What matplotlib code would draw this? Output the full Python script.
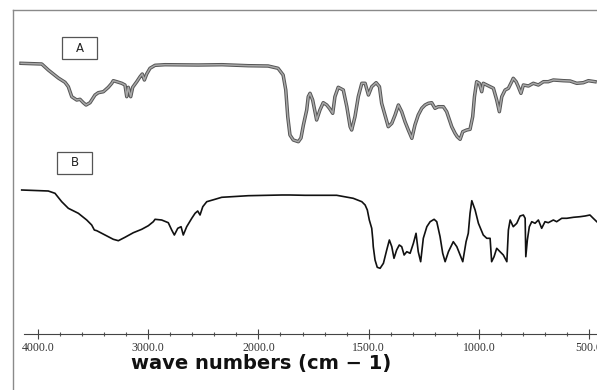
import numpy as np
import matplotlib
matplotlib.use("Agg")
import matplotlib.pyplot as plt
import matplotlib.patheffects as pe
from matplotlib.patches import Rectangle
from matplotlib.ticker import FixedLocator, FixedFormatter, NullFormatter

# spectrum A (upper trace): wavenumber (cm-1) and relative transmittance (%)
wn_a = [4154, 3966, 3907, 3816, 3755, 3725, 3694, 3649, 3619, 3589, 3564, 3528,
        3483, 3453, 3407, 3362, 3331, 3317, 3286, 3240, 3211, 3195, 3181, 3159,
        3141, 3104, 3074, 3054, 3035, 3014, 2984, 2938, 2848, 2548, 2330, 2094,
        1956, 1911, 1888, 1876, 1867, 1857, 1842, 1819, 1807, 1796, 1781, 1774,
        1766, 1754, 1736, 1721, 1706, 1690, 1678, 1663, 1653, 1638, 1615, 1599,
        1584, 1577, 1562, 1547, 1531, 1516, 1501, 1486, 1466, 1451, 1441, 1426,
        1411, 1395, 1380, 1365, 1350, 1335, 1320, 1304, 1290, 1275, 1259, 1244,
        1229, 1214, 1199, 1184, 1161, 1146, 1123, 1108, 1098, 1085, 1073, 1055,
        1040, 1028, 1020, 1010, 998, 987, 980, 964, 949, 934, 919, 907, 896, 881,
        866, 851, 844, 831, 821, 809, 798, 775, 753, 730, 707, 685, 662, 617, 586,
        556, 526, 503, 473]
t_a = [99.7, 99, 93, 85, 80.7, 76.3, 66.3, 63, 63.7, 60.3, 58, 60.3,
       68, 70.3, 71.3, 75.7, 79.7, 82.3, 81.3, 79.7, 78, 66.3, 75.7, 66.3,
       75.7, 81.3, 86.3, 89, 83, 89, 94.7, 97.7, 98.3, 98, 98.3, 97.3,
       97, 94.7, 88, 73, 46.3, 28, 23, 21.3, 25, 38, 53, 66.3,
       69.7, 63, 43, 53, 60.3, 58, 54.7, 49.7, 66.3, 75.7, 73, 56.3,
       36.3, 33, 46.3, 66.3, 79.7, 79.7, 68, 76.3, 80.3, 76.3, 59.7, 48,
       36.3, 39.7, 48, 58, 51.3, 41.3, 33, 24.7, 38, 48, 54.7, 58,
       59.7, 60.3, 54.7, 56.3, 56.3, 51.3, 36.3, 29.7, 26.3, 23.7, 31.3, 33,
       33.7, 46.3, 66.3, 81.3, 79.7, 71.3, 79.7, 78, 76.3, 74.7, 63, 51.3, 66.3, 73,
       74.7, 81.3, 84.7, 81.3, 76.3, 69.7, 78, 77, 79.7, 78, 81.3, 81.3, 83, 82.3, 82,
       79.7, 80.3, 82.3, 81.3]

# spectrum B (lower trace)
wn_b = [4148, 3907, 3846, 3785, 3725, 3634, 3558, 3513, 3489, 3467, 3392, 3317,
        3271, 3211, 3135, 3059, 2999, 2954, 2938, 2878, 2818, 2787, 2763, 2732,
        2702, 2682, 2651, 2605, 2575, 2551, 2530, 2505, 2469, 2394, 2333, 2092,
        1894, 1857, 1789, 1645, 1570, 1531, 1516, 1506, 1497, 1486, 1481, 1479,
        1471, 1461, 1448, 1433, 1418, 1406, 1395, 1385, 1373, 1361, 1350, 1339,
        1327, 1312, 1297, 1285, 1275, 1264, 1252, 1236, 1221, 1203, 1191, 1176,
        1164, 1153, 1138, 1116, 1100, 1085, 1073, 1058, 1048, 1040, 1032, 1017,
        1002, 980, 964, 949, 942, 931, 919, 904, 889, 873, 866, 858, 844, 828,
        813, 798, 790, 787, 780, 771, 760, 745, 730, 715, 700, 685, 662, 647,
        624, 601, 571, 541, 518, 496, 481, 465]
t_b = [98, 97, 94.7, 86.3, 79.7, 74.7, 68, 63, 58, 57.3, 53, 48.7,
       47.3, 50.7, 55.3, 58.7, 62.3, 66.3, 68.7, 68, 65.3, 58, 53, 59.7,
       61.3, 53, 61.3, 69.7, 74.7, 77, 73, 81.3, 86.3, 88.7, 90.7, 92.3,
       93, 93, 92.7, 92.7, 89.7, 86.3, 83, 78, 68, 59.7, 48, 41.3,
       28, 20.7, 19.7, 24.7, 38, 48, 41.3, 29.7, 38, 43, 41.3, 33,
       36.3, 34.7, 44.7, 54.7, 36.3, 26.3, 49.7, 61.3, 66.3, 68.7, 66.3, 51.3,
       34.7, 26.3, 36.3, 46.3, 41.3, 33, 26.3, 46.3, 54.7, 74.7, 87.3, 78,
       64.7, 53, 49.7, 49.7, 26.3, 31.3, 39.7, 36.3, 33, 26.3, 58, 68, 61.3, 64.7,
       72, 73, 69.7, 31.3, 48, 61.3, 66.3, 64.7, 68, 59.7, 66.3, 65.3, 68, 66.3,
       69.7, 69.7, 70.7, 71.3, 72, 73, 69.7, 66.3]

offset_a = 171
offset_b = 46

major_ticks = [4000, 3000, 2000, 1500, 1000, 500]
major_labels = ["4000.0", "3000.0", "2000.0", "1500.0", "1000.0", "500.0"]
minor_ticks = list(range(4000, 2000, -200)) + list(range(2000, 400, -100))


# IR chart x-axis: scale doubles below 2000 cm-1 (monotonic increasing map)
def fwd(w):
    w = np.asarray(w, dtype=float)
    return np.where(w >= 2000, w, 2 * w - 2000)


def inv(u):
    u = np.asarray(u, dtype=float)
    return np.where(u >= 2000, u, (u + 2000) / 2)


fig = plt.figure(figsize=(5.97, 3.90), dpi=100)
ax = fig.add_axes([13 / 597, 0, 1 - 13 / 597, 380 / 390])
ax.set_xscale("function", functions=(fwd, inv))
ax.set_xlim(4227, 464)
ax.set_ylim(-56, 324)

# spectrum A: grey trace with dark outline
ax.plot(wn_a, np.array(t_a) + offset_a, color="#a8a8a8", lw=1.1,
        solid_joinstyle="round",
        path_effects=[pe.Stroke(linewidth=2.5, foreground="#555555"), pe.Normal()])
ax.plot(wn_b, np.array(t_b) + offset_b, color="#111111", lw=1.2,
        solid_joinstyle="round")

# frame: grey top/left, axis line at zero
ax.spines["right"].set_visible(False)
ax.spines["top"].set_color("#8a8a8a")
ax.spines["left"].set_color("#8a8a8a")
ax.spines["top"].set_linewidth(1.0)
ax.spines["left"].set_linewidth(1.0)
ax.spines["bottom"].set_position(("data", 0))
ax.spines["bottom"].set_color("#444444")
ax.spines["bottom"].set_linewidth(0.8)
ax.spines["bottom"].set_bounds(4127, 464)

ax.xaxis.set_major_locator(FixedLocator(major_ticks))
ax.xaxis.set_major_formatter(FixedFormatter(major_labels))
ax.xaxis.set_minor_locator(FixedLocator(minor_ticks))
ax.xaxis.set_minor_formatter(NullFormatter())
ax.tick_params(axis="x", which="major", direction="inout", length=7, width=0.8,
               color="#444444", pad=2, labelsize=8.5, labelcolor="#333333")
ax.tick_params(axis="x", which="minor", direction="inout", length=3, width=0.8,
               color="#555555")
for lab in ax.get_xticklabels():
    lab.set_fontfamily("Liberation Serif")
ax.set_yticks([])

ax.text((261 - 13) / 584, 0.071, "wave numbers (cm \u2212 1)", transform=ax.transAxes,
        ha="center", va="center", fontsize=14, fontweight="heavy",
        family="DejaVu Sans", color="#111111")

# sample labels in boxes
for lbl, bx, by in [("A", (62 - 13) / 584, (390 - 59) / 380),
                    ("B", (57 - 13) / 584, (390 - 174) / 380)]:
    ax.add_patch(Rectangle((bx, by), 35 / 584, 22 / 380, transform=ax.transAxes,
                           fill=False, edgecolor="#555555", lw=0.9))
    ax.text(bx + 17.5 / 584, by + 11 / 380, lbl, transform=ax.transAxes,
            ha="center", va="center", fontsize=8.5, color="#222222")

fig.savefig("out.png", dpi=100)
